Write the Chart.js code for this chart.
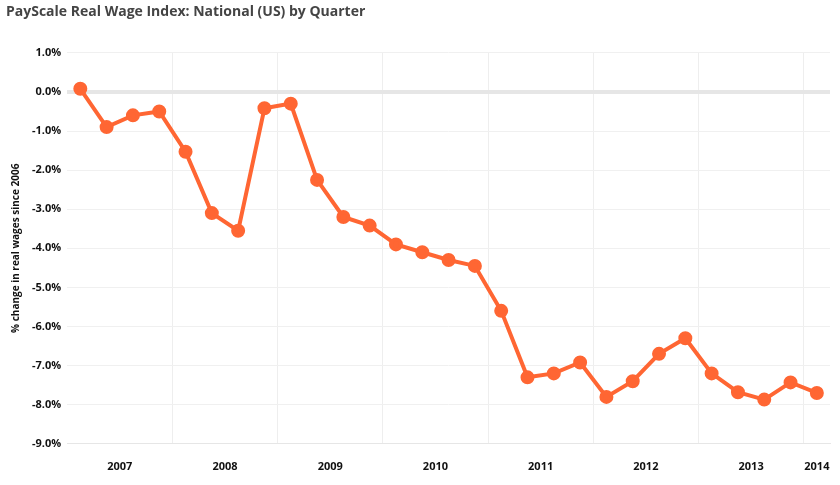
<!DOCTYPE html>
<html>
<head>
<meta charset="utf-8">
<script src="https://cdn.jsdelivr.net/npm/chart.js@4"></script>
<style>
  html, body { margin: 0; padding: 0; background: #fff; }
  #wrap { position: relative; width: 840px; height: 485px; }
</style>
</head>
<body>
<div id="wrap"><canvas id="c"></canvas></div>
<script>
(function(){
  'use strict';

  // one point per quarter, index 0 = 2006 Q4
  var values = [0.08, -0.9, -0.6, -0.5, -1.53, -3.1, -3.55, -0.42, -0.3, -2.25,
    -3.2, -3.42, -3.9, -4.1, -4.3, -4.45, -5.6, -7.3, -7.2, -6.92,
    -7.8, -7.4, -6.7, -6.3, -7.2, -7.68, -7.87, -7.43, -7.7];
  var years = ['2007', '2008', '2009', '2010', '2011', '2012', '2013', '2014'];
  var yearCenters = [1.5, 5.5, 9.5, 13.5, 17.5, 21.5, 25.5, 28];
  var yearBounds = [3.5, 7.5, 11.5, 15.5, 19.5, 23.5, 27.5];

  var points = values.map(function(v, i){ return { x: i, y: v }; });

  new Chart(document.getElementById('c'), {
    type: 'line',
    data: {
      datasets: [{
        data: points,
        borderColor: '#ff6633',
        backgroundColor: '#ff6633',
        borderWidth: 4,
        pointRadius: 5,
        pointHoverRadius: 6,
        tension: 0,
        xAxisID: 'x'
      }]
    },
    options: {
      responsive: true,
      maintainAspectRatio: false,
      animation: false,
      layout: { padding: { left: 6, right: 10, top: 4, bottom: 4 } },
      plugins: {
        legend: { display: false },
        tooltip: { enabled: false },
        title: {
          display: true,
          text: 'PayScale Real Wage Index: National (US) by Quarter',
          align: 'start',
          color: '#444',
          font: { family: 'Open Sans', size: 14, weight: 'bold' },
          padding: { top: 0, bottom: 32 }
        }
      },
      scales: {
        x: {
          type: 'linear', min: -0.5, max: 28.5,
          afterBuildTicks: function(ax){ ax.ticks = yearCenters.map(function(v){ return { value: v }; }); },
          ticks: {
            autoSkip: false, maxRotation: 0, padding: 8,
            color: '#111',
            font: { family: 'Open Sans', size: 11, weight: 'bold' },
            callback: function(v){ var i = yearCenters.indexOf(v); return i >= 0 ? years[i] : ''; }
          },
          grid: { display: false },
          border: { color: '#e6e6e6' }
        },
        xg: {
          type: 'linear', min: -0.5, max: 28.5, position: 'bottom',
          afterBuildTicks: function(ax){ ax.ticks = yearBounds.map(function(v){ return { value: v }; }); },
          ticks: { display: false },
          grid: { color: '#eeeeee', drawTicks: false },
          border: { display: false }
        },
        y: {
          min: -9, max: 1,
          ticks: {
            stepSize: 1, padding: 6,
            color: '#111',
            font: { family: 'Open Sans', size: 11, weight: 'bold' },
            callback: function(v){ return v.toFixed(1) + '%'; }
          },
          grid: {
            drawTicks: false,
            color: function(ctx){ return ctx.tick && ctx.tick.value === 0 ? '#e6e6e6' : '#f0f0f0'; },
            lineWidth: function(ctx){ return ctx.tick && ctx.tick.value === 0 ? 4 : 1; }
          },
          border: { display: false },
          title: {
            display: true,
            text: '% change in real wages since 2006',
            color: '#111',
            font: { family: 'Open Sans', size: 10, weight: 'bold' }
          }
        }
      }
    }
  });
})();
</script>
</body>
</html>
